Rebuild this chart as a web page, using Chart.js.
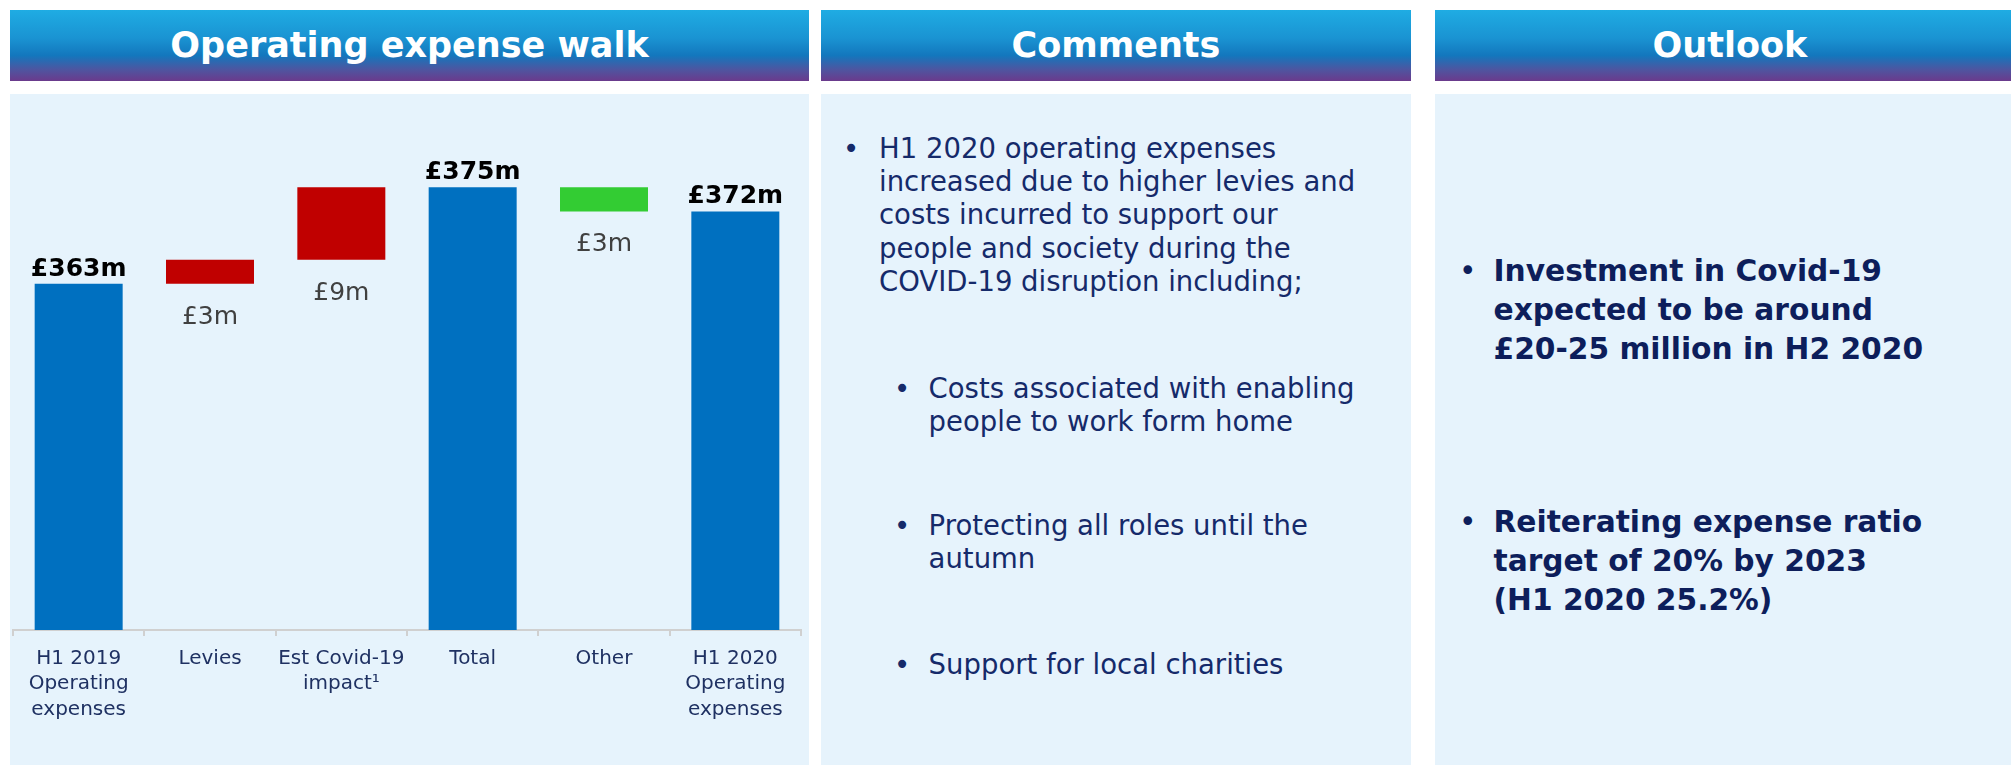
<!DOCTYPE html>
<html>
<head>
<meta charset="utf-8">
<script src="https://cdn.jsdelivr.net/npm/chart.js@4.4.1/dist/chart.umd.min.js"></script>
<style>
  html, body { margin: 0; padding: 0; background: #ffffff; }
  body { width: 2011px; height: 765px; position: relative; overflow: hidden; font-family: "DejaVu Sans", sans-serif; }
  .hdr { position: absolute; top: 10px; height: 71px; line-height: 71px; text-align: center; color: #ffffff;
         font-weight: bold; font-size: 35px; white-space: nowrap;
         background: linear-gradient(to bottom, #1FACE3 0%, #1A93D2 40%, #1377BD 64%, #4E55A0 84%, #6B3A8C 100%); }
  .bdy { position: absolute; top: 94px; height: 680px; background: #E6F3FC; }
  .txt { position: absolute; white-space: nowrap; }
  .cm { font-size: 27.5px; line-height: 33.33px; color: #152A6A; }
  .ol { font-size: 29.7px; line-height: 39px; color: #0D1E5B; font-weight: bold; }
  .olb { font-size: 29.7px; line-height: 39px; color: #0D1E5B; font-weight: normal; }
</style>
</head>
<body>
  <div class="hdr" style="left:10px; width:799px;">Operating expense walk</div>
  <div class="hdr" style="left:821px; width:590px;">Comments</div>
  <div class="hdr" style="left:1435px; width:590px;">Outlook</div>

  <div class="bdy" style="left:10px; width:799px;"></div>
  <div class="bdy" style="left:821px; width:590px;"></div>
  <div class="bdy" style="left:1435px; width:590px;"></div>

  <div id="chartBox" style="position:absolute; left:10px; top:94px; width:799px; height:671px;">
    <canvas id="c"></canvas>
  </div>

  <!-- Comments -->
  <div class="txt cm" style="left:843px; top:131.8px;">•</div>
  <div class="txt cm" style="left:879px; top:131.8px;">H1 2020 operating expenses<br>increased due to higher levies and<br>costs incurred to support our<br>people and society during the<br>COVID-19 disruption including;</div>

  <div class="txt cm" style="left:894px; top:371.8px;">•</div>
  <div class="txt cm" style="left:928.6px; top:371.8px;">Costs associated with enabling<br>people to work form home</div>

  <div class="txt cm" style="left:894px; top:508.8px;">•</div>
  <div class="txt cm" style="left:928.6px; top:508.8px;">Protecting all roles until the<br>autumn</div>

  <div class="txt cm" style="left:894px; top:647.8px;">•</div>
  <div class="txt cm" style="left:928.6px; top:647.8px;">Support for local charities</div>

  <!-- Outlook -->
  <div class="txt olb" style="left:1459px; top:250.7px;">•</div>
  <div class="txt ol" style="left:1493.5px; top:250.7px;">Investment in Covid-19<br>expected to be around<br>£20-25 million in H2 2020</div>

  <div class="txt olb" style="left:1459px; top:501.9px;">•</div>
  <div class="txt ol" style="left:1493.5px; top:501.9px;">Reiterating expense ratio<br>target of 20% by 2023<br>(H1 2020 25.2%)</div>

<script>
// ---- Data ----
const categories = [
  ["H1 2019", "Operating", "expenses"],
  "Levies",
  ["Est Covid-19", "impact¹"],
  "Total",
  "Other",
  ["H1 2020", "Operating", "expenses"]
];
// step kind: 'total' bars start from zero, 'delta' bars float
const stepKinds = ["total", "delta", "delta", "total", "delta", "total"];
const stepValues = [363, 3, 9, 375, -3, 372];   // £m
const barColors = ["#0070C0", "#C00000", "#C00000", "#0070C0", "#33CC33", "#0070C0"];
const yMin = 320;
const yMax = 380;

// Build floating ranges from the step values
const ranges = [];
let running = 0;
for (let i = 0; i < stepValues.length; i++) {
  if (stepKinds[i] === "total") {
    running = stepValues[i];
    ranges.push([0, running]);
  } else {
    const start = running;
    running = running + stepValues[i];
    ranges.push([start, running]);
  }
}
const labelTexts = stepValues.map(v => "£" + Math.abs(v) + "m");

const valueLabels = {
  id: "valueLabels",
  afterDatasetsDraw(chart) {
    const ctx = chart.ctx;
    const meta = chart.getDatasetMeta(0);
    ctx.save();
    ctx.textAlign = "center";
    ctx.textBaseline = "alphabetic";
    meta.data.forEach((bar, i) => {
      const top = Math.min(bar.y, bar.base);
      const bottom = Math.max(bar.y, bar.base);
      if (stepKinds[i] === "total") {
        ctx.font = "bold 25px 'DejaVu Sans'";
        ctx.fillStyle = "#000000";
        ctx.fillText(labelTexts[i], bar.x, top - 8);
      } else {
        ctx.font = "25px 'DejaVu Sans'";
        ctx.fillStyle = "#404040";
        ctx.fillText(labelTexts[i], bar.x, bottom + 40);
      }
    });
    ctx.restore();
  }
};

new Chart(document.getElementById("c"), {
  type: "bar",
  data: {
    labels: categories,
    datasets: [{
      data: ranges,
      backgroundColor: barColors,
      borderWidth: 0,
      borderSkipped: false,
      barPercentage: 0.67,
      categoryPercentage: 1.0
    }]
  },
  options: {
    responsive: true,
    maintainAspectRatio: false,
    animation: false,
    layout: { padding: { left: 3, right: 8, top: 53, bottom: 0 } },
    plugins: { legend: { display: false }, tooltip: { enabled: false } },
    scales: {
      x: {
        grid: { display: true, drawOnChartArea: false, drawTicks: true, tickLength: 6, color: "#D0D0D0", lineWidth: 2, offset: true },
        border: { display: true, color: "#D0D0D0", width: 2 },
        ticks: {
          autoSkip: false, maxRotation: 0, minRotation: 0, padding: 10,
          color: "#1F3162",
          font: { family: "DejaVu Sans", size: 20, lineHeight: 1.275 }
        },
        afterFit(scale) { scale.height = 135; }
      },
      y: {
        display: false,
        min: yMin,
        max: yMax,
        grid: { display: false }
      }
    }
  },
  plugins: [valueLabels]
});
</script>
</body>
</html>
